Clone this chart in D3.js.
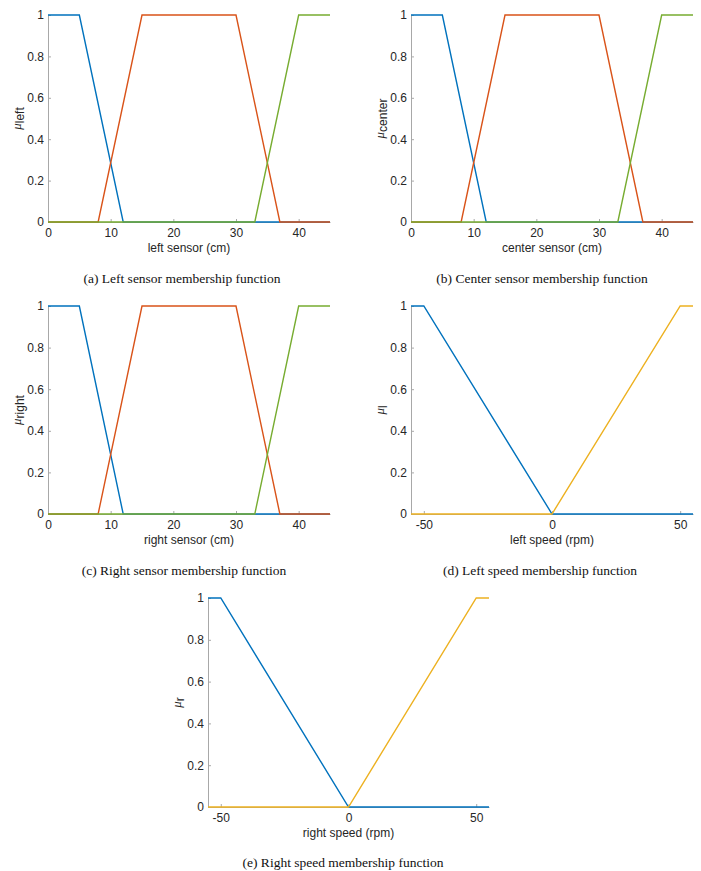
<!doctype html>
<html>
  <head>
    <script src="https://cdnjs.cloudflare.com/ajax/libs/d3/7.8.5/d3.min.js"></script>
    <style>
      body { margin: 0; background: #fff; }
      .tick text { font-family: "Liberation Sans", Arial, sans-serif; font-size: 12px; fill: #262626; }
      .axis path, .axis line { stroke: #a8a8a8; }
      .lbl { font-family: "Liberation Sans", Arial, sans-serif; font-size: 12px; fill: #262626; }
      .cap { font-family: "Liberation Serif", "Times New Roman", serif; font-size: 13.5px; fill: #111; }
    </style>
  </head>
  <body>
    <svg width="701" height="871"></svg>
    <script>
        // membership function breakpoints
        var sensorTicks = [0, 10, 20, 30, 40];
        var speedTicks = [-50, 0, 50];
        var muTicks = [0, 0.2, 0.4, 0.6, 0.8, 1];

        var sensorNearX = [0, 5, 12, 45];
        var sensorNearY = [1, 1, 0, 0];
        var sensorMidX = [0, 8, 15, 30, 37, 45];
        var sensorMidY = [0, 0, 1, 1, 0, 0];
        var sensorFarX = [0, 33, 40, 45];
        var sensorFarY = [0, 0, 1, 1];

        var speedNegX = [-55, -50, 0, 55];
        var speedNegY = [1, 1, 0, 0];
        var speedPosX = [-55, 0, 50, 55];
        var speedPosY = [0, 0, 1, 1];

        var blue = "#0072BD", red = "#D95319", yellow = "#EDB120", green = "#77AC30";

        var sensorSeries = [
            {x: sensorNearX, y: sensorNearY, c: blue},
            {x: sensorMidX, y: sensorMidY, c: red},
            {x: sensorFarX, y: sensorFarY, c: green}
        ];
        var speedSeries = [
            {x: speedNegX, y: speedNegY, c: blue},
            {x: speedPosX, y: speedPosY, c: yellow}
        ];

        var panels = [
            {l: 48, r: 330, t: 15, b: 222, dom: [0, 45], ticks: sensorTicks, series: sensorSeries,
             xlab: "left sensor (cm)", sub: "left", cap: "(a) Left sensor membership function", cx: 182, cy: 283},
            {l: 411, r: 693, t: 15, b: 222, dom: [0, 45], ticks: sensorTicks, series: sensorSeries,
             xlab: "center sensor (cm)", sub: "center", cap: "(b) Center sensor membership function", cx: 542, cy: 283},
            {l: 48, r: 330, t: 306, b: 514, dom: [0, 45], ticks: sensorTicks, series: sensorSeries,
             xlab: "right sensor (cm)", sub: "right", cap: "(c) Right sensor membership function", cx: 184, cy: 575},
            {l: 411, r: 693, t: 306, b: 514, dom: [-55, 55], ticks: speedTicks, series: speedSeries,
             xlab: "left speed (rpm)", sub: "l", cap: "(d) Left speed membership function", cx: 540, cy: 575},
            {l: 208, r: 489, t: 598, b: 807, dom: [-55, 55], ticks: speedTicks, series: speedSeries,
             xlab: "right speed (rpm)", sub: "r", cap: "(e) Right speed membership function", cx: 343, cy: 867}
        ];

        var svg = d3.select("svg");

        panels.forEach(function(p) {
            var x = d3.scaleLinear().domain(p.dom).range([p.l, p.r]);
            var y = d3.scaleLinear().domain([0, 1]).range([p.b, p.t]);
            var g = svg.append("g");

            g.append("g")
                .attr("class", "axis")
                .attr("transform", "translate(0," + p.b + ")")
                .call(d3.axisBottom(x).tickValues(p.ticks).tickFormat(d => d)
                    .tickSizeInner(-3).tickSizeOuter(0).tickPadding(6));

            g.append("g")
                .attr("class", "axis")
                .attr("transform", "translate(" + p.l + ",0)")
                .call(d3.axisLeft(y).tickValues(muTicks).tickFormat(d => d)
                    .tickSizeInner(-3).tickSizeOuter(0).tickPadding(4));

            var line = d3.line().x(d => x(d[0])).y(d => y(d[1]));
            p.series.forEach(function(s) {
                g.append("path")
                    .datum(d3.zip(s.x, s.y))
                    .attr("d", line)
                    .attr("fill", "none")
                    .attr("stroke", s.c)
                    .attr("stroke-width", 1.4);
            });

            g.append("text")
                .attr("class", "lbl")
                .attr("x", (p.l + p.r) / 2)
                .attr("y", p.b + 30)
                .attr("text-anchor", "middle")
                .text(p.xlab);

            var yl = g.append("text")
                .attr("class", "lbl")
                .attr("text-anchor", "middle")
                .attr("transform", "translate(" + (p.l - 27) + "," + ((p.t + p.b) / 2) + ") rotate(-90)");
            yl.append("tspan").attr("font-style", "italic").attr("font-family", "'Liberation Serif', serif").attr("font-size", 13).text("\u03bc");
            yl.append("tspan").attr("dy", 3).text(p.sub);

            g.append("text")
                .attr("class", "cap")
                .attr("x", p.cx)
                .attr("y", p.cy)
                .attr("text-anchor", "middle")
                .text(p.cap);
        });
    </script>
  </body>
</html>
